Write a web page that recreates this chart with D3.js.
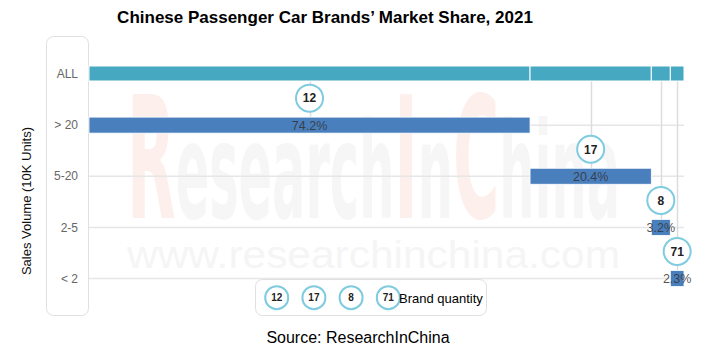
<!DOCTYPE html>
<html>
<head>
<meta charset="utf-8">
<script src="https://cdn.jsdelivr.net/npm/d3@7"></script>
<style>
  html, body { margin: 0; padding: 0; background: #fff; }
  svg { display: block; font-family: "Liberation Sans", Arial, sans-serif; }
</style>
</head>
<body>
<svg id="chart" width="716" height="356"></svg>
<script>
// ---- data ----
const allLabel = "ALL";
const categories = ["> 20", "5-20", "2-5", "< 2"];
const shares = [74.2, 20.4, 3.2, 2.3];
const brandCounts = [12, 17, 8, 71];
const legendLabel = "Brand quantity";
const titleText = "Chinese Passenger Car Brands\u2019 Market Share, 2021";
const yTitle = "Sales Volume (10K Units)";
const sourceText = "Source: ResearchInChina";

const svg = d3.select("#chart");

const total = d3.sum(shares);
const x = d3.scaleLinear().domain([0, total]).range([89, 684]);
const y = d3.scalePoint().domain([allLabel, ...categories]).range([73.5, 278]);
const barH = 15;

// cumulative starts
const starts = [];
let acc = 0;
shares.forEach(s => { starts.push(acc); acc += s; });

// ---- watermark ----
const wm = svg.append("g").attr("pointer-events", "none");
const wmText = wm.append("text")
  .attr("x", 127).attr("y", 218)
  .attr("font-family", "'DejaVu Sans Condensed', 'DejaVu Sans', sans-serif")
  .attr("font-weight", "bold")
  .attr("textLength", 493)
  .attr("lengthAdjust", "spacingAndGlyphs");
[["R", "#fdefec", 170], ["esearch", "#f6f6f6", 133], ["I", "#fdefec", 170], ["n", "#f6f6f6", 133], ["C", "#fdefec", 170], ["hina", "#f6f6f6", 133]]
  .forEach(([t, c, s]) => wmText.append("tspan").attr("fill", c).attr("font-size", s).text(t));
wm.append("text")
  .attr("x", 127).attr("y", 268)
  .attr("font-family", "'Liberation Sans', Arial, sans-serif")
  .attr("font-size", 38)
  .attr("fill", "#f5f5f5")
  .attr("textLength", 493)
  .attr("lengthAdjust", "spacingAndGlyphs")
  .text("www.researchinchina.com");

// ---- title ----
svg.append("text")
  .attr("x", 325).attr("y", 23)
  .attr("text-anchor", "middle")
  .attr("font-weight", "bold")
  .attr("font-size", 17)
  .attr("fill", "#000")
  .text(titleText);

// ---- y axis title ----
svg.append("text")
  .attr("transform", "translate(31,201) rotate(-90)")
  .attr("text-anchor", "middle")
  .attr("font-size", 13)
  .attr("fill", "#111")
  .text(yTitle);

// ---- category panel ----
svg.append("rect")
  .attr("x", 46.5).attr("y", 36.5).attr("width", 42).attr("height", 279)
  .attr("rx", 7).attr("ry", 7)
  .attr("fill", "#fff").attr("stroke", "#e0e0e0").attr("stroke-width", 1);

const yAxis = d3.axisLeft(y).tickSize(0).tickPadding(0);
const yg = svg.append("g").attr("transform", "translate(78,0)").call(yAxis);
yg.select(".domain").remove();
yg.selectAll("text")
  .attr("font-family", "'Liberation Sans', Arial, sans-serif")
  .attr("font-size", 12)
  .attr("fill", "#666")
  .attr("dy", "0.35em");

// ---- horizontal gridlines ----
svg.append("g").selectAll("line")
  .data(categories)
  .join("line")
  .attr("x1", 89).attr("x2", 684)
  .attr("y1", d => y(d) + 0.5).attr("y2", d => y(d) + 0.5)
  .attr("stroke", "#e6e6e6").attr("stroke-width", 1.5);

// ---- connector lines ----
svg.append("g").selectAll("line")
  .data(categories)
  .join("line")
  .attr("x1", (d, i) => Math.round(x(starts[i] + shares[i] / 2)) + 0.5)
  .attr("x2", (d, i) => Math.round(x(starts[i] + shares[i] / 2)) + 0.5)
  .attr("y1", y(allLabel) + barH / 2)
  .attr("y2", d => y(d) - barH / 2)
  .attr("stroke", "#dcdcdc").attr("stroke-width", 1.5);

// ---- ALL stacked bar ----
svg.append("g").selectAll("rect")
  .data(shares)
  .join("rect")
  .attr("x", (d, i) => x(starts[i]))
  .attr("width", d => x(d) - x(0))
  .attr("y", y(allLabel) - barH / 2)
  .attr("height", barH)
  .attr("fill", "#47a8c2")
  .attr("stroke", "#fff").attr("stroke-width", 1);

// ---- row bars ----
svg.append("g").selectAll("rect")
  .data(categories)
  .join("rect")
  .attr("x", (d, i) => x(starts[i]))
  .attr("width", (d, i) => x(shares[i]) - x(0))
  .attr("y", d => y(d) - barH / 2)
  .attr("height", barH + 1)
  .attr("fill", "#4a7fbd")
  .attr("stroke", "#fff").attr("stroke-width", 0.8);

// ---- percent labels ----
svg.append("g").selectAll("text")
  .data(categories)
  .join("text")
  .attr("x", (d, i) => x(starts[i] + shares[i] / 2))
  .attr("y", d => y(d) + 1)
  .attr("dy", "0.35em")
  .attr("text-anchor", "middle")
  .attr("font-size", 12.5)
  .attr("fill", "#333")
  .attr("fill-opacity", 0.85)
  .text((d, i) => d3.format(".1f")(shares[i]) + "%");

// ---- brand count circles ----
const cg = svg.append("g").selectAll("g")
  .data(categories)
  .join("g")
  .attr("transform", (d, i) => `translate(${x(starts[i] + shares[i] / 2)},${y(d) - 26.5})`);
cg.append("circle")
  .attr("r", 13.5)
  .attr("fill", "#fff")
  .attr("stroke", "#7fcbe0").attr("stroke-width", 2);
cg.append("text")
  .attr("text-anchor", "middle").attr("dy", "0.36em")
  .attr("font-size", 12).attr("font-weight", "bold").attr("fill", "#222")
  .text((d, i) => brandCounts[i]);

// ---- legend ----
svg.append("rect")
  .attr("x", 255.5).attr("y", 279.5).attr("width", 231).attr("height", 36)
  .attr("rx", 7).attr("ry", 7)
  .attr("fill", "#fff").attr("stroke", "#e0e0e0").attr("stroke-width", 1);
const lg = svg.append("g").selectAll("g")
  .data(brandCounts)
  .join("g")
  .attr("transform", (d, i) => `translate(${276.7 + i * 37.2},297.7)`);
lg.append("circle")
  .attr("r", 11.5)
  .attr("fill", "#fff")
  .attr("stroke", "#7fcbe0").attr("stroke-width", 2);
lg.append("text")
  .attr("text-anchor", "middle").attr("dy", "0.36em")
  .attr("font-size", 10).attr("font-weight", "bold").attr("fill", "#222")
  .text(d => d);
svg.append("text")
  .attr("x", 399).attr("y", 298).attr("dy", "0.35em")
  .attr("font-size", 13).attr("fill", "#000")
  .text(legendLabel);

// ---- source ----
svg.append("text")
  .attr("x", 358).attr("y", 343)
  .attr("text-anchor", "middle")
  .attr("font-size", 16).attr("fill", "#000")
  .text(sourceText);
</script>
</body>
</html>
